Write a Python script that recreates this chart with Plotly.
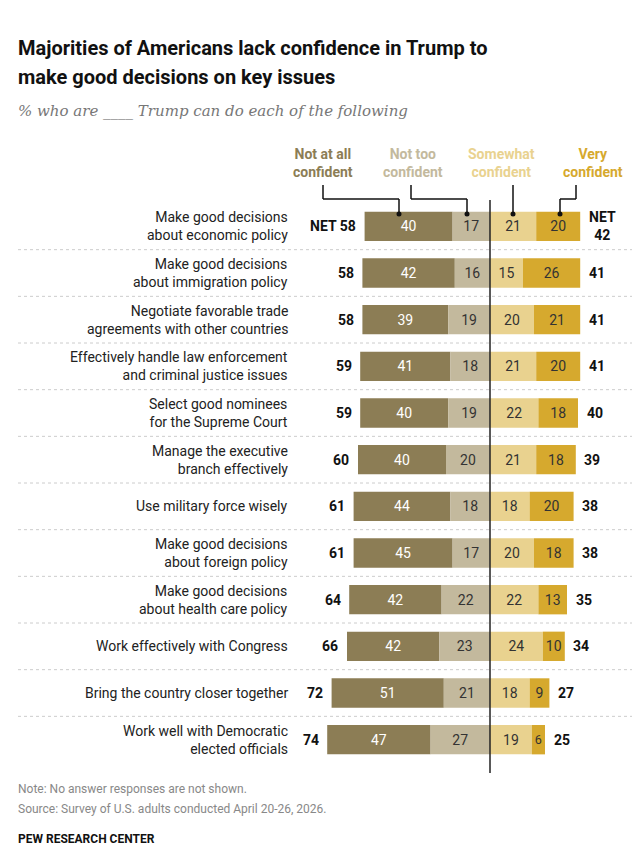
import plotly.graph_objects as go

items = ["Make good decisions<br>about economic policy", "Make good decisions<br>about immigration policy",
         "Negotiate favorable trade<br>agreements with other countries",
         "Effectively handle law enforcement<br>and criminal justice issues",
         "Select good nominees<br>for the Supreme Court", "Manage the executive<br>branch effectively",
         "Use military force wisely", "Make good decisions<br>about foreign policy",
         "Make good decisions<br>about health care policy", "Work effectively with Congress",
         "Bring the country closer together", "Work well with Democratic<br>elected officials"]
not_at_all = [40, 42, 39, 41, 40, 40, 44, 45, 42, 42, 51, 47]
not_too = [17, 16, 19, 18, 19, 20, 18, 17, 22, 23, 21, 27]
somewhat = [21, 15, 20, 21, 22, 21, 18, 20, 22, 24, 18, 19]
very = [20, 26, 21, 20, 18, 18, 20, 18, 13, 10, 9, 6]
net_neg = [58, 58, 58, 59, 59, 60, 61, 61, 64, 66, 72, 74]
net_pos = [42, 41, 41, 41, 40, 39, 38, 38, 35, 34, 27, 25]
series = ["Not at all<br>confident", "Not too<br>confident", "Somewhat<br>confident", "Very<br>confident"]
colors = ["#8c7d55", "#c3b99d", "#e9d28f", "#d6a92e"]
textcol = ["white", "#333", "#333", "#333"]

n = len(items)
ys = list(range(n))
W, H = 640, 867
PT, PB = 195, 755
def yp(py): return (PB - py) / (PB - PT)
def xp(px): return px / W

fig = go.Figure()
neg_base = [-(a + b) for a, b in zip(not_at_all, not_too)]
data = [(not_at_all, neg_base), (not_too, [-b for b in not_too]), (somewhat, [0]*n), (very, somewhat)]
for (vals, base), c, tc in zip(data, colors, textcol):
    fig.add_trace(go.Bar(y=ys, x=vals, base=base, orientation="h", marker=dict(color=c, line_width=0),
                         width=0.63, text=[str(v) for v in vals], textposition="inside",
                         insidetextanchor="middle", textfont=dict(color=tc, size=14, family="Roboto"),
                         hoverinfo="skip", showlegend=False))

ann = []
def pa(px, py, text, size, color, xanchor="left", align="left"):
    ann.append(dict(x=xp(px), y=yp(py), xref="paper", yref="paper", text=text, showarrow=False,
                    xanchor=xanchor, yanchor="middle", align=align,
                    font=dict(size=size, color=color, family="Roboto")))

for i in range(n):
    ann.append(dict(x=xp(282), y=i, xref="paper", yref="y", text=items[i], xanchor="right", yanchor="middle",
                    showarrow=False, align="right", font=dict(size=14, color="#222", family="Roboto")))
    ann.append(dict(x=neg_base[i] - 3, y=i, xref="x", yref="y", yanchor="middle",
                    text=("<b>NET 58</b>" if i == 0 else f"<b>{net_neg[i]}</b>"), xanchor="right",
                    showarrow=False, font=dict(size=14, color="#111", family="Roboto")))
    ann.append(dict(x=somewhat[i] + very[i] + 3, y=i, xref="x", yref="y", yanchor="middle",
                    text=(f"<b>NET<br>{net_pos[i]}</b>" if i == 0 else f"<b>{net_pos[i]}</b>"),
                    xanchor="left", showarrow=False, align="center", font=dict(size=14, color="#111", family="Roboto")))

legx = [315, 405, 493, 585]
for lx, s, c in zip(legx, series, colors):
    pa(lx, 155, f"<b>{s}</b>", 14, c, xanchor="center", align="center")

pa(8, 40, "<b>Majorities of Americans lack confidence in Trump to</b>", 20, "#111")
pa(8, 69, "<b>make good decisions on key issues</b>", 20, "#111")
ann.append(dict(x=xp(8), y=yp(103), xref="paper", yref="paper", xanchor="left", yanchor="middle",
                text="<i>% who are ____ Trump can do each of the following</i>", showarrow=False,
                font=dict(size=15, color="#777", family="DejaVu Serif")))
pa(8, 781, "Note: No answer responses are not shown.", 12, "#888")
pa(8, 801, "Source: Survey of U.S. adults conducted April 20-26, 2026.", 12, "#888")
pa(8, 831, "<b>PEW RESEARCH CENTER</b>", 12, "#111")

shapes = []
def seg(x0, y0, x1, y1, c="#111", w=1.5):
    shapes.append(dict(type="line", xref="paper", yref="paper", x0=xp(x0), y0=yp(y0), x1=xp(x1), y1=yp(y1),
                       line=dict(color=c, width=w)))
for path in [[(315, 177), (315, 191), (391, 191), (391, 206)],
             [(403, 177), (403, 191), (459, 191), (459, 206)],
             [(505, 177), (505, 206)],
             [(568, 177), (568, 191), (552, 191), (552, 206)]]:
    for a, b in zip(path, path[1:]):
        seg(a[0], a[1], b[0], b[1])
    ex, ey = path[-1]
    shapes.append(dict(type="circle", xref="paper", yref="paper", x0=xp(ex - 2.5), x1=xp(ex + 2.5),
                       y0=yp(ey + 2.5), y1=yp(ey - 2.5), fillcolor="#111", line_width=0))
for i in range(n - 1):
    shapes.append(dict(type="line", xref="paper", yref="y", x0=xp(10), x1=xp(625), y0=i + 0.5, y1=i + 0.5,
                       line=dict(color="#ccc", width=1, dash="dot")))
shapes.append(dict(type="line", xref="x", yref="paper", x0=0, x1=0, y0=yp(192), y1=yp(765),
                   line=dict(color="#222", width=1.5)))

fig.update_layout(
    width=W, height=H, margin=dict(l=0, r=0, t=PT, b=H - PB), barmode="overlay",
    plot_bgcolor="white", paper_bgcolor="white",
    xaxis=dict(domain=[xp(290), xp(620)], range=[(290 - 482) / 2.2, (620 - 482) / 2.2], visible=False),
    yaxis=dict(range=[n - 0.5, -0.5], visible=False),
    annotations=ann, shapes=shapes,
)
fig.write_html("out.html")
